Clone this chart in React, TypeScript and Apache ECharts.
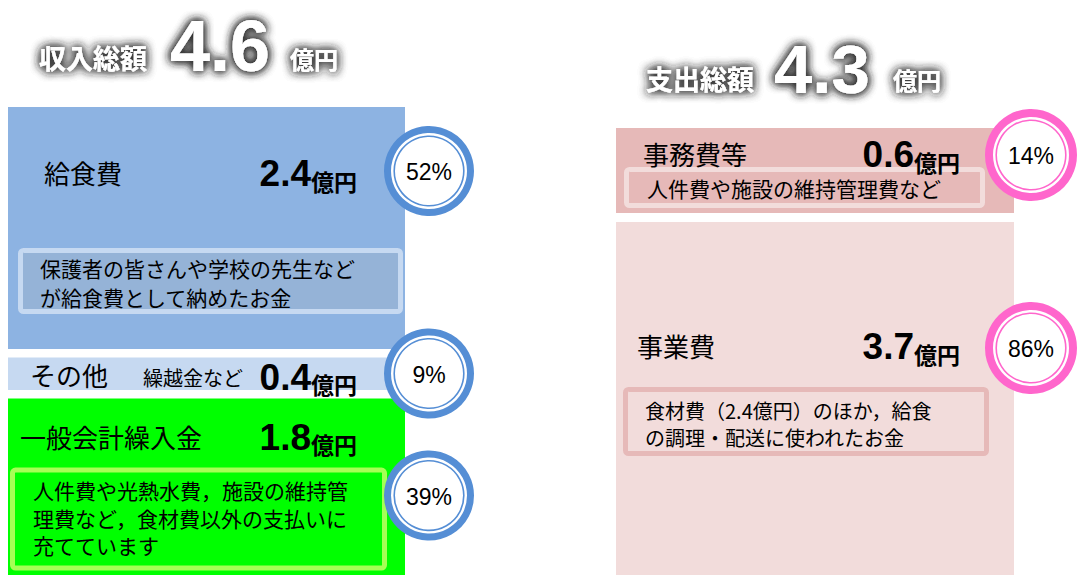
import React, { useEffect, useRef } from 'react';
import * as echarts from 'echarts';

// ---- data ----
const incomeCategories = ['給食費', 'その他', '一般会計繰入金'];
const incomeValues = [2.4, 0.4, 1.8];
const incomeShares = ['52%', '9%', '39%'];
const incomeNotes = [
  '保護者の皆さんや学校の先生など\nが給食費として納めたお金',
  '繰越金など',
  '人件費や光熱水費，施設の維持管\n理費など，食材費以外の支払いに\n充てています',
];
const incomeTotal = 4.6;
const incomeTitle = '収入総額';

const expenseCategories = ['事務費等', '事業費'];
const expenseValues = [0.6, 3.7];
const expenseShares = ['14%', '86%'];
const expenseNotes = [
  '人件費や施設の維持管理費など',
  '食材費（2.4億円）のほか，給食\nの調理・配送に使われたお金',
];
const expenseTotal = 4.3;
const expenseTitle = '支出総額';

const unitLabel = '億円';

// ---- layout / style (offsets relative to each block) ----
const JP = '"Noto Sans CJK JP", "Noto Sans", sans-serif';
const NUM = '"Liberation Sans", Arial, sans-serif';

const incomeLayout = [
  { fill: '#8DB3E2', titleX: 36, titleY: 65, valueY: 66, circleY: 64,
    note: { x: 10, y: 141, w: 385, h: 66, fill: '#95B3D7', stroke: '#C6D9F1', tx: 32, ty: 146.5, lh: 29, fs: 21 } },
  { fill: '#C6D9F1', titleX: 22, titleY: 17, valueY: 19, circleY: 16,
    sub: { x: 135, y: 20, fs: 20 } },
  { fill: '#00FF00', titleX: 12, titleY: 38, valueY: 38, circleY: 97,
    note: { x: 2, y: 69, w: 377, h: 103, fill: '#00FF00', stroke: '#A6FF55', tx: 25, ty: 77.75, lh: 27.5, fs: 21 } },
];
const expenseLayout = [
  { fill: '#E6B9B8', titleX: 27, titleY: 25, valueY: 26, circleY: 27,
    note: { x: 8, y: 39, w: 361, h: 41, fill: '#E6B9B8', stroke: '#F2DCDB', tx: 31, ty: 46, lh: 28, fs: 21 } },
  { fill: '#F2DCDB', titleX: 21, titleY: 123, valueY: 124, circleY: 126,
    note: { x: 7, y: 165, w: 366, h: 69, fill: '#F2DCDB', stroke: '#E6B9B8', tx: 29, ty: 174.5, lh: 27, fs: 20 } },
];

function cumulative(values: number[]) {
  let acc = 0;
  return values.map((v) => {
    const s = acc;
    acc += v;
    return [0, s, acc];
  });
}

function makeRenderer(
  cats: string[], values: number[], shares: string[], notes: string[], layout: any[],
  ringColor: string, ringWidth: number, ringR: number, valueRight: number, circleDX: number, gap: number,
) {
  return (params: any, api: any) => {
    const i = params.dataIndex;
    const n = cats.length;
    const p0 = api.coord([0, api.value(1)]);
    const p1 = api.coord([1, api.value(2)]);
    const x0 = p0[0];
    const x1 = p1[0];
    const top = p0[1] + (i > 0 ? gap / 2 : 0);
    const bottom = p1[1] - (i < n - 1 ? gap / 2 : 0);
    const L = layout[i];
    const children: any[] = [];
    children.push({ type: 'rect', shape: { x: x0, y: top, width: x1 - x0, height: bottom - top }, style: { fill: L.fill } });
    children.push({
      type: 'text', z2: 5,
      style: { text: cats[i], x: x0 + L.titleX, y: top + L.titleY, fill: '#000', fontSize: 26, fontFamily: JP, fontWeight: 'normal',
        align: 'left', verticalAlign: 'middle', textAlign: 'left', textVerticalAlign: 'middle' },
    });
    children.push({
      type: 'text', z2: 5,
      style: {
        text: `{n|${values[i].toFixed(1)}}{u|${unitLabel}}`,
        x: x1 - valueRight, y: top + L.valueY,
        align: 'right', verticalAlign: 'middle', textAlign: 'right', textVerticalAlign: 'middle',
        rich: {
          n: { fontSize: 37, fontWeight: 'bold', fontFamily: NUM, fill: '#000', verticalAlign: 'bottom', lineHeight: 38 },
          u: { fontSize: 23, fontWeight: 'bold', fontFamily: JP, fill: '#000', verticalAlign: 'bottom', lineHeight: 33 },
        },
      },
    });
    if (L.note) {
      const N = L.note;
      children.push({
        type: 'rect', z2: 3,
        shape: { x: x0 + N.x + 2.5, y: top + N.y + 2.5, width: N.w - 5, height: N.h - 5, r: 3 },
        style: { fill: N.fill, stroke: N.stroke, lineWidth: 5 },
      });
      children.push({
        type: 'text', z2: 5,
        style: { text: notes[i], x: x0 + N.tx, y: top + N.ty, fill: '#000', fontSize: N.fs, lineHeight: N.lh, fontFamily: JP,
          align: 'left', verticalAlign: 'top', textAlign: 'left', textVerticalAlign: 'top' },
      });
    }
    if (L.sub) {
      children.push({
        type: 'text', z2: 5,
        style: { text: notes[i], x: x0 + L.sub.x, y: top + L.sub.y, fill: '#000', fontSize: L.sub.fs, fontFamily: JP,
          align: 'left', verticalAlign: 'middle', textAlign: 'left', textVerticalAlign: 'middle' },
      });
    }
    const cx = x1 + circleDX;
    const cy = top + L.circleY;
    children.push({ type: 'circle', z2: 20, shape: { cx, cy, r: ringR - ringWidth / 2 }, style: { fill: '#fff', stroke: ringColor, lineWidth: ringWidth } });
    children.push({ type: 'circle', z2: 21, shape: { cx, cy, r: ringR - ringWidth - 3.2 }, style: { fill: 'none', stroke: ringColor, lineWidth: 1.6 } });
    children.push({
      type: 'text', z2: 22,
      style: { text: shares[i], x: cx, y: cy + 1, fill: '#000', fontSize: 23, fontFamily: NUM,
        align: 'center', verticalAlign: 'middle', textAlign: 'center', textVerticalAlign: 'middle' },
    });
    return { type: 'group', children };
  };
}

function headingElements(label: string, total: number, lx: number, ly: number, nx: number, ny: number, ux: number, uy: number, numSize: number) {
  const glow = { textShadowColor: 'rgba(45,45,45,0.9)', textShadowBlur: 10, textShadowOffsetX: 0, textShadowOffsetY: 0 };
  const items: any[] = [];
  for (let k = 0; k < 3; k++) {
    items.push({ type: 'text', x: lx, y: ly, style: { text: label, fill: '#fff', fontSize: 27, fontWeight: 'bold', fontFamily: JP, textVerticalAlign: 'middle', verticalAlign: 'middle', ...glow } });
    items.push({ type: 'text', x: nx, y: ny, style: { text: total.toFixed(1), fill: '#fff', fontSize: numSize, fontWeight: 'bold', fontFamily: NUM, textVerticalAlign: 'middle', verticalAlign: 'middle', ...glow } });
    items.push({ type: 'text', x: ux, y: uy, style: { text: unitLabel, fill: '#fff', fontSize: 24, fontWeight: 'bold', fontFamily: JP, textVerticalAlign: 'middle', verticalAlign: 'middle', ...glow } });
  }
  return items;
}

export default function App() {
  const ref = useRef<HTMLDivElement>(null);
  useEffect(() => {
    if (!ref.current) return;
    const chart = echarts.init(ref.current, undefined, { renderer: 'svg' });
    const option: any = {
      animation: false,
      backgroundColor: '#fff',
      grid: [
        { left: 8, top: 107, width: 397, height: 472 },
        { left: 616, top: 128, width: 398, height: 641.5 },
      ],
      xAxis: [
        { gridIndex: 0, type: 'value', min: 0, max: 1, show: false },
        { gridIndex: 1, type: 'value', min: 0, max: 1, show: false },
      ],
      yAxis: [
        { gridIndex: 0, type: 'value', min: 0, max: incomeTotal, inverse: true, show: false },
        { gridIndex: 1, type: 'value', min: 0, max: expenseTotal, inverse: true, show: false },
      ],
      series: [
        {
          type: 'custom', xAxisIndex: 0, yAxisIndex: 0, clip: false,
          encode: { x: 0, y: [1, 2] },
          data: cumulative(incomeValues),
          renderItem: makeRenderer(incomeCategories, incomeValues, incomeShares, incomeNotes, incomeLayout, '#558ED5', 7, 45, 48, 24, 8.5),
        },
        {
          type: 'custom', xAxisIndex: 1, yAxisIndex: 1, clip: false,
          encode: { x: 0, y: [1, 2] },
          data: cumulative(expenseValues),
          renderItem: makeRenderer(expenseCategories, expenseValues, expenseShares, expenseNotes, expenseLayout, '#FF66CC', 8, 46, 54, 17, 9),
        },
      ],
      graphic: [
        ...headingElements(incomeTitle, incomeTotal, 39, 57, 170, 46, 290, 58, 72),
        ...headingElements(expenseTitle, expenseTotal, 646, 78, 774, 69, 893, 79, 69),
      ],
    };
    chart.setOption(option);
    return () => chart.dispose();
  }, []);
  return (
    <div style={{ position: 'absolute', left: 0, top: 0, width: 1078, height: 575, overflow: 'hidden' }}>
      <div ref={ref} style={{ width: 1078, height: 800 }} />
    </div>
  );
}
